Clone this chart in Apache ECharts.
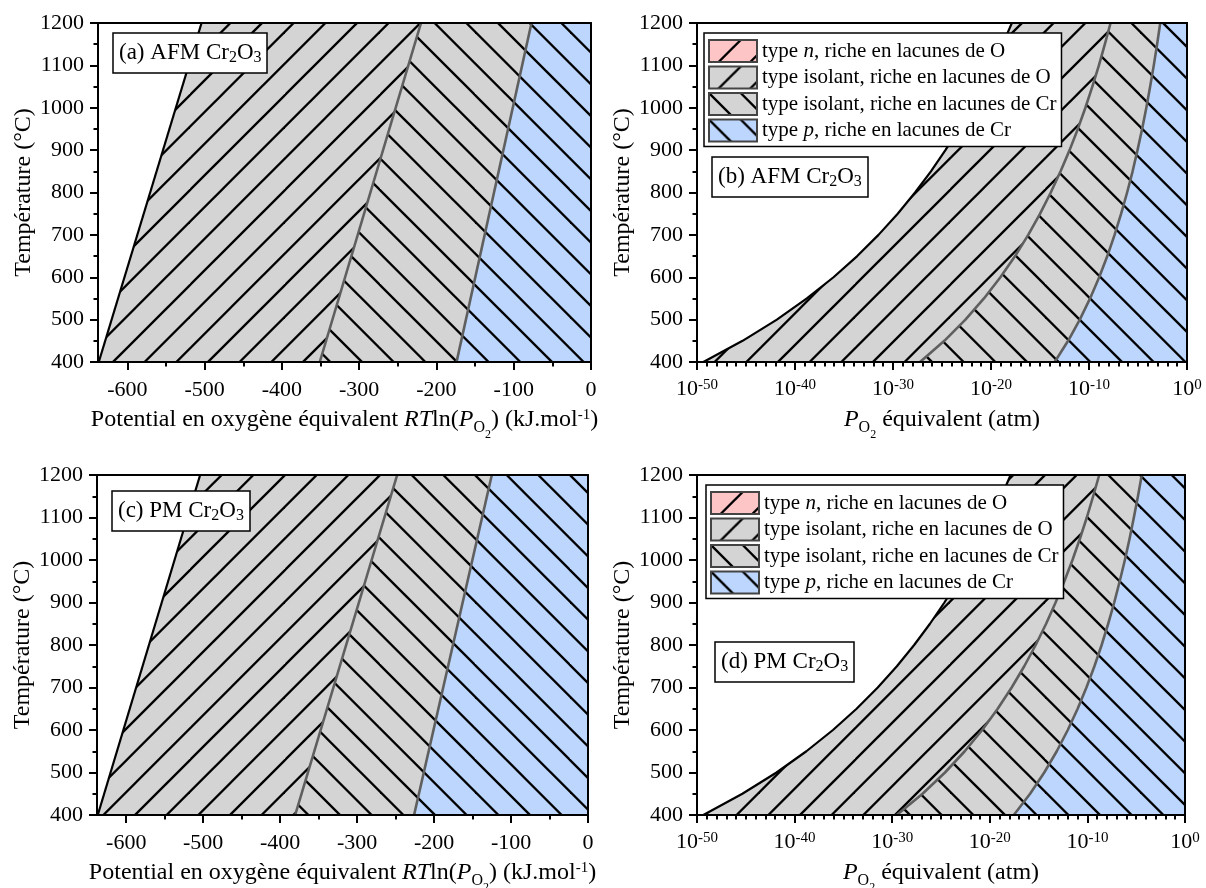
<!DOCTYPE html>
<html><head><meta charset="utf-8">
<script src="https://cdn.jsdelivr.net/npm/echarts@6/dist/echarts.min.js"></script>
<style>html,body{margin:0;padding:0;background:#fff}#chart{width:1206px;height:888px}</style>
</head><body><div id="chart"></div>
<script>
const FONT = 'Liberation Serif';

// temperatures (°C)
const tempRange = [400, 1200];
const tempSteps = [400, 450, 500, 550, 600, 650, 700, 750, 800, 850, 900, 950, 1000, 1050, 1100, 1150, 1200];

// panel (a) AFM: boundaries in RT ln(PO2) (kJ/mol) at 400 and 1200 °C
const aStability = [-637, -504];
const aIsoOtoCr = [-351, -220];
const aIsoToP = [-174, -77];
// panel (c) PM
const cStability = [-637, -504];
const cIsoOtoCr = [-380.5, -248];
const cIsoToP = [-226, -125];

// panel (b) AFM: boundaries as log10(PO2 / atm) at tempSteps
const bStability = [-49.35, -45.35, -41.85, -38.79, -36.07, -33.65, -31.48, -29.52, -27.75, -26.13, -24.65, -23.29, -22.03, -20.87, -19.80, -18.80, -17.87];
const bIsoOtoCr = [-27.24, -24.76, -22.61, -20.72, -19.04, -17.54, -16.20, -14.99, -13.90, -12.90, -11.98, -11.14, -10.37, -9.66, -8.99, -8.38, -7.80];
const bIsoToP = [-13.50, -12.13, -10.94, -9.89, -8.96, -8.13, -7.39, -6.72, -6.11, -5.55, -5.05, -4.58, -4.15, -3.76, -3.39, -3.05, -2.73];
// panel (d) PM
const dStability = [-49.35, -45.35, -41.85, -38.79, -36.07, -33.65, -31.48, -29.52, -27.75, -26.13, -24.65, -23.29, -22.03, -20.87, -19.80, -18.80, -17.87];
const dIsoOtoCr = [-29.53, -26.89, -24.59, -22.57, -20.78, -19.19, -17.76, -16.47, -15.30, -14.23, -13.26, -12.36, -11.53, -10.77, -10.06, -9.41, -8.79];
const dIsoToP = [-17.54, -15.87, -14.42, -13.14, -12.01, -11.00, -10.10, -9.28, -8.54, -7.87, -7.25, -6.69, -6.16, -5.68, -5.24, -4.82, -4.43];

// tick labels
const muTicks = [-600, -500, -400, -300, -200, -100, 0];
const muMinorTicks = [-550, -450, -350, -250, -150, -50];
const seriesNames = [
  'type n, riche en lacunes de O',
  'type isolant, riche en lacunes de O',
  'type isolant, riche en lacunes de Cr',
  'type p, riche en lacunes de Cr'
];
const panelLabels = ['(a) AFM Cr{s|2}O{s|3}', '(b) AFM Cr{s|2}O{s|3}', '(c) PM Cr{s|2}O{s|3}', '(d) PM Cr{s|2}O{s|3}'];

const GRAY = '#d4d4d4', BLUE = '#bdd6fd', PINK = '#fdc5c5';

function hatch(bg, dir) {
  const s = 95, c = document.createElement('canvas');
  c.width = s; c.height = s;
  const g = c.getContext('2d');
  g.fillStyle = bg; g.fillRect(0, 0, s, s);
  g.strokeStyle = '#000'; g.lineWidth = 2.3;
  for (let k = -4; k <= 7; k++) {
    const o = k * s / 3;
    g.beginPath();
    if (dir === '/') { g.moveTo(o + 20, -20); g.lineTo(o - s - 20, s + 20); }
    else { g.moveTo(o - 20, -20); g.lineTo(o + s + 20, s + 20); }
    g.stroke();
  }
  return { image: c, repeat: 'repeat' };
}
const fills = [hatch(PINK, '/'), hatch(GRAY, '/'), hatch(GRAY, '\\'), hatch(BLUE, '\\')];

const zip = (xs, ts) => xs.map((x, i) => [x, ts[i]]);

const nameRich = {
  m: { fontFamily: FONT, fontSize: 24, verticalAlign: 'top', color: '#000' },
  i: { fontFamily: FONT, fontSize: 24, verticalAlign: 'top', color: '#000', fontStyle: 'italic' },
  s: { fontFamily: FONT, fontSize: 16, verticalAlign: 'top', color: '#000', padding: [12, 0, 0, 0] },
  ss: { fontFamily: FONT, fontSize: 12, verticalAlign: 'top', color: '#000', padding: [21, 0, 0, 0] },
  p: { fontFamily: FONT, fontSize: 15, verticalAlign: 'top', color: '#000' }
};
const muName = '{m|Potential en oxygène équivalent }{i|RT}{m|ln(}{i|P}{s|O}{ss|2}{m|) (kJ.mol}{p|-1}{m|)}';
const pName = '{i|P}{s|O}{ss|2}{m| équivalent (atm)}';

const grids = [
  { left: 98, top: 23, width: 493, height: 339 },
  { left: 697, top: 23, width: 490, height: 339 },
  { left: 97, top: 475, width: 491, height: 340 },
  { left: 697, top: 475, width: 488, height: 340 }
].map(g => Object.assign({ containLabel: false, outerBoundsMode: 'none' }, g));

const axisLine = { show: true, onZero: false, lineStyle: { color: '#000', width: 2 } };
const labelStyle = { color: '#000', fontFamily: FONT, fontSize: 22 };

const xAxes = [], yAxes = [], series = [];
const xMain = [], yMain = [];

function addY(gi) {
  yMain[gi] = yAxes.length;
  yAxes.push({
    gridIndex: gi, type: 'value', min: 400, max: 1200, interval: 100, z: 10,
    axisLine, axisTick: { show: true, length: 8, lineStyle: { width: 2, color: '#000' } },
    minorTick: { show: true, splitNumber: 2, length: 4.5, lineStyle: { width: 2, color: '#000' } },
    splitLine: { show: false }, minorSplitLine: { show: false },
    axisLabel: Object.assign({ margin: 14, formatter: v => String(v) }, labelStyle),
    name: 'Température (°C)', nameLocation: 'middle', nameGap: 60,
    nameTextStyle: { color: '#000', fontFamily: FONT, fontSize: 24 }
  });
  yAxes.push({
    gridIndex: gi, type: 'value', min: 400, max: 1200, interval: 100, position: 'right', z: 10,
    axisLine, axisTick: { show: false }, axisLabel: { show: false }, splitLine: { show: false }
  });
}
function addMuX(gi) {
  xMain[gi] = xAxes.length;
  xAxes.push({
    gridIndex: gi, type: 'value', min: -638, max: 0, z: 10,
    axisLine, axisTick: { show: true, length: 8, customValues: muTicks, lineStyle: { width: 2, color: '#000' } },
    axisLabel: Object.assign({ margin: 17, customValues: muTicks, formatter: v => String(v) }, labelStyle),
    splitLine: { show: false },
    name: muName, nameLocation: 'middle', nameGap: 46,
    nameTextStyle: { color: '#000', fontFamily: FONT, fontSize: 24, rich: nameRich }
  });
  xAxes.push({
    gridIndex: gi, type: 'value', min: -638, max: 0, position: 'top', z: 10,
    axisLine, axisTick: { show: false }, axisLabel: { show: false }, splitLine: { show: false }
  });
  xAxes.push({
    gridIndex: gi, type: 'value', min: -638, max: 0, position: 'bottom', z: 10,
    axisLine: { show: false, onZero: false },
    axisTick: { show: true, length: 4.5, customValues: muMinorTicks, lineStyle: { width: 2, color: '#000' } },
    axisLabel: { show: false }, splitLine: { show: false }
  });
}
function addLogX(gi) {
  xMain[gi] = xAxes.length;
  xAxes.push({
    gridIndex: gi, type: 'value', min: -50, max: 0, interval: 10, z: 10,
    axisLine, axisTick: { show: true, length: 8, lineStyle: { width: 2, color: '#000' } },
    minorTick: { show: true, splitNumber: 10, length: 4.5, lineStyle: { width: 2, color: '#000' } },
    splitLine: { show: false }, minorSplitLine: { show: false },
    axisLabel: {
      margin: 16, color: '#000', fontFamily: FONT, fontSize: 22,
      formatter: v => '{b|10}{sup|' + v + '}',
      rich: {
        b: { fontFamily: FONT, fontSize: 22, verticalAlign: 'top', color: '#000' },
        sup: { fontFamily: FONT, fontSize: 15, verticalAlign: 'top', color: '#000' }
      }
    },
    name: pName, nameLocation: 'middle', nameGap: 46,
    nameTextStyle: { color: '#000', fontFamily: FONT, fontSize: 24, rich: nameRich }
  });
  xAxes.push({
    gridIndex: gi, type: 'value', min: -50, max: 0, position: 'top', z: 10,
    axisLine, axisTick: { show: false }, axisLabel: { show: false }, splitLine: { show: false }
  });
}

function region(name, poly, fill, gi) {
  return {
    type: 'custom', name, xAxisIndex: xMain[gi], yAxisIndex: yMain[gi], silent: true, z: 2,
    clip: true, itemStyle: { color: fill }, data: poly, encode: { x: 0, y: 1 },
    renderItem: (params, api) => {
      if (params.dataIndex !== 0) return null;
      return { type: 'polygon', shape: { points: poly.map(p => api.coord(p)) }, style: { fill: fill, stroke: null } };
    }
  };
}
function boundary(xs, ts, color, width, gi) {
  return {
    type: 'line', xAxisIndex: xMain[gi], yAxisIndex: yMain[gi], data: zip(xs, ts), silent: true,
    showSymbol: false, symbol: 'none', z: 3, clip: true,
    lineStyle: { color, width, join: 'round' }
  };
}
function addPanel(gi, ts, stab, isoOCr, isoP, xmax) {
  series.push({
    type: 'custom', name: seriesNames[0], xAxisIndex: xMain[gi], yAxisIndex: yMain[gi],
    itemStyle: { color: fills[0] }, data: [], renderItem: () => null
  });
  const polyO = zip(stab, ts).concat(zip(isoOCr, ts).reverse());
  const polyCr = zip(isoOCr, ts).concat(zip(isoP, ts).reverse());
  const polyP = zip(isoP, ts).concat([[xmax, ts[ts.length - 1]], [xmax, ts[0]]]);
  series.push(region(seriesNames[1], polyO, fills[1], gi));
  series.push(region(seriesNames[2], polyCr, fills[2], gi));
  series.push(region(seriesNames[3], polyP, fills[3], gi));
  series.push(boundary(stab, ts, '#000', 2.2, gi));
  series.push(boundary(isoOCr, ts, '#5f5f5f', 2.6, gi));
  series.push(boundary(isoP, ts, '#5f5f5f', 2.6, gi));
}

addMuX(0); addLogX(1); addMuX(2); addLogX(3);
for (let g = 0; g < 4; g++) addY(g);

addPanel(0, tempRange, aStability, aIsoOtoCr, aIsoToP, 0);
addPanel(1, tempSteps, bStability, bIsoOtoCr, bIsoToP, 0);
addPanel(2, tempRange, cStability, cIsoOtoCr, cIsoToP, 0);
addPanel(3, tempSteps, dStability, dIsoOtoCr, dIsoToP, 0);

const labelPos = [[113, 33], [712, 157], [112, 491], [715, 642]];
const titles = panelLabels.map((t, i) => ({
  text: t, left: labelPos[i][0], top: labelPos[i][1], padding: [7, 6, 7, 6],
  backgroundColor: '#fff', borderColor: '#000', borderWidth: 1.5, z: 12,
  textStyle: {
    fontFamily: FONT, fontSize: 23, fontWeight: 'normal', color: '#000', lineHeight: 26,
    rich: { s: { fontFamily: FONT, fontSize: 16, lineHeight: 10, verticalAlign: 'bottom', color: '#000' } }
  }
}));

const legendPos = [[704, 33], [706, 485]];
const legends = legendPos.map(p => ({
  orient: 'vertical', left: p[0], top: p[1], padding: [6, 5, 4, 4], itemGap: 2.5,
  itemWidth: 48, itemHeight: 22, icon: 'rect', selectedMode: false,
  backgroundColor: '#fff', borderColor: '#000', borderWidth: 1.5, z: 12,
  textStyle: {
    fontFamily: FONT, fontSize: 21, lineHeight: 22, color: '#000',
    rich: { it: { fontFamily: FONT, fontSize: 21, lineHeight: 22, fontStyle: 'italic', color: '#000' } }
  },
  formatter: n => n.replace(/^type ([np]),/, 'type {it|$1},'),
  data: seriesNames.map((n, i) => ({ name: n, icon: 'rect', itemStyle: { color: fills[i], borderColor: '#444', borderWidth: 2 } }))
}));

const chart = echarts.init(document.getElementById('chart'), null, { renderer: 'canvas' });
chart.setOption({
  animation: false,
  backgroundColor: '#fff',
  title: titles,
  legend: legends,
  grid: grids,
  xAxis: xAxes,
  yAxis: yAxes,
  series
});
</script></body></html>
